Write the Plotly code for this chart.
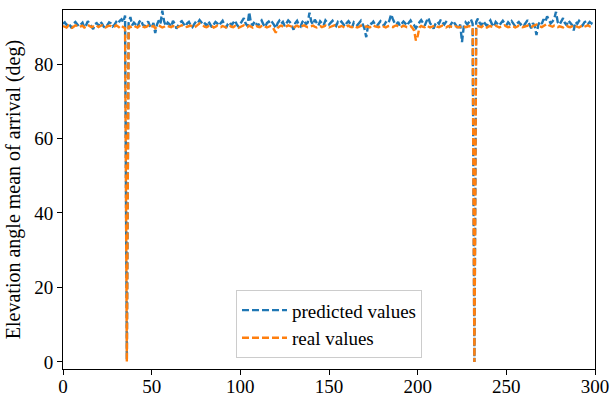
import plotly.graph_objects as go

real_values = [
    90.2, 90.0, 89.8, 90.3, 90.1, 89.7, 90.0, 90.4, 90.2, 89.9, 90.1, 90.3, 89.8, 90.0, 90.5, 90.2, 89.9, 90.1, 90.0, 90.3,
    89.9, 90.2, 90.4, 90.0, 89.8, 90.1, 90.3, 90.2, 89.9, 90.0, 90.4, 90.1, 89.7, 90.2, 90.0, 89.6, 0.0, 90.2, 89.9, 90.1,
    90.3, 90.0, 89.8, 90.2, 90.5, 90.1, 89.9, 90.0, 90.3, 89.8, 90.1, 90.2, 89.6, 90.0, 90.4, 90.1, 89.8, 90.0, 90.3, 90.2,
    90.0, 89.9, 90.2, 90.1, 89.7, 90.0, 90.3, 90.4, 90.1, 89.9, 90.0, 90.2, 90.3, 90.0, 89.8, 90.1, 90.5, 90.9, 90.6, 90.2,
    90.0, 89.9, 90.1, 90.4, 90.2, 89.8, 90.0, 90.3, 90.1, 89.9, 90.2, 90.0, 89.8, 90.1, 90.3, 90.0, 89.9, 90.2, 90.1, 89.7,
    90.0, 90.2, 90.4, 90.1, 89.9, 90.3, 90.0, 89.8, 90.1, 90.2, 90.0, 89.9, 90.2, 90.4, 90.1, 89.8, 90.0, 90.2, 90.1, 89.4,
    88.4, 89.6, 90.1, 90.3, 90.0, 89.8, 90.1, 90.4, 90.2, 90.0, 89.5, 90.1, 90.3, 90.0, 89.7, 90.2, 90.4, 90.1, 89.9, 90.0,
    90.2, 90.3, 90.0, 89.8, 90.1, 90.2, 89.9, 90.0, 90.3, 90.1, 89.8, 90.0, 90.2, 90.4, 90.1, 89.9, 90.0, 90.2, 90.0, 89.7,
    90.1, 90.3, 90.0, 89.9, 90.2, 90.1, 89.8, 90.0, 90.3, 90.2, 89.9, 90.1, 90.0, 89.8, 90.2, 90.4, 90.1, 90.0, 89.9, 90.2,
    90.3, 90.0, 89.8, 90.1, 90.2, 90.0, 89.9, 90.2, 90.4, 90.1, 89.8, 90.0, 90.3, 90.1, 89.9, 90.0, 90.2, 89.7, 89.0, 86.3,
    87.5, 89.8, 90.2, 90.0, 89.9, 90.3, 90.1, 89.8, 90.0, 90.2, 90.4, 90.0, 89.9, 90.1, 90.3, 90.0, 89.8, 90.1, 90.2, 90.0,
    89.9, 90.2, 90.1, 89.8, 90.0, 90.3, 90.1, 89.9, 90.0, 90.2, 90.1, 89.8, 0.0, 90.0, 90.2, 90.1, 89.9, 90.3, 90.0, 89.8,
    90.1, 90.2, 90.0, 89.9, 90.3, 90.1, 89.8, 90.0, 90.2, 90.4, 90.1, 89.9, 90.0, 90.2, 90.1, 89.8, 90.0, 90.3, 90.2, 89.9,
    90.0, 90.1, 90.3, 90.0, 89.8, 90.2, 90.4, 90.6, 90.3, 90.0, 89.9, 90.2, 90.5, 90.8, 90.4, 90.1, 90.0, 90.3, 90.2, 89.9,
    90.1, 90.0, 89.8, 90.2, 90.3, 90.0, 89.9, 90.1, 90.4, 90.2, 90.0, 89.8, 90.1, 90.3, 90.0, 90.2, 90.4, 90.1, 90.0, 90.2,
]

predicted_values = [
    90.8, 91.2, 90.5, 91.0, 90.3, 89.6, 90.9, 91.3, 90.7, 90.1, 90.6, 91.1, 89.8, 90.4, 91.5, 90.9, 90.2, 89.4, 90.7, 91.0,
    90.3, 91.4, 90.8, 90.0, 89.7, 90.6, 91.2, 90.9, 90.1, 90.5, 91.3, 90.8, 91.6, 92.0, 91.2, 93.0, 0.5, 91.0, 92.6, 90.4,
    91.1, 90.6, 89.9, 91.3, 91.8, 90.5, 90.1, 90.8, 91.4, 90.2, 89.8, 91.0, 88.3, 90.6, 91.7, 90.9, 94.3, 91.5, 90.2, 91.1,
    90.7, 90.0, 91.6, 90.8, 89.5, 90.4, 91.2, 91.5, 90.6, 90.1, 90.9, 91.3, 90.4, 89.9, 90.7, 91.4, 91.0, 91.8, 91.2, 90.5,
    90.9, 90.2, 91.5, 90.7, 89.8, 90.6, 91.3, 90.9, 90.3, 91.0, 91.6, 90.5, 89.7, 90.8, 91.2, 90.4, 91.1, 91.7, 90.6, 90.0,
    90.8, 91.4, 92.3, 90.9, 90.2, 93.9, 91.0, 90.3, 91.5, 90.8, 90.1, 91.2, 91.7, 90.6, 89.9, 91.0, 91.4, 90.7, 91.2, 90.5,
    89.6, 90.9, 91.6, 90.8, 91.3, 90.2, 90.9, 91.7, 91.2, 90.4, 89.2, 91.0, 91.6, 90.5, 90.1, 91.3, 91.8, 90.7, 91.1, 93.8,
    91.4, 90.6, 91.9, 90.9, 90.3, 91.5, 91.0, 90.4, 91.7, 91.2, 90.6, 91.1, 91.6, 90.8, 90.2, 91.3, 90.9, 91.4, 90.7, 90.1,
    91.0, 91.5, 90.8, 89.8, 91.2, 90.9, 90.4, 91.0, 91.6, 90.7, 89.5, 87.2, 90.3, 91.1, 90.8, 91.4, 90.6, 90.2, 91.0, 91.5,
    90.9, 90.3, 91.2, 90.8, 91.6, 93.3, 92.1, 91.0, 90.6, 91.3, 90.2, 90.8, 91.4, 90.9, 90.3, 91.1, 91.7, 90.8, 90.4, 89.6,
    90.5, 91.2, 91.8, 90.9, 90.3, 91.5, 92.4, 91.0, 90.2, 89.5, 90.7, 91.4, 90.8, 91.9, 91.2, 90.6, 91.3, 90.9, 90.1, 91.0,
    91.6, 90.8, 90.2, 89.4, 90.6, 85.9, 90.1, 91.2, 90.6, 91.4, 92.0, 90.8, 0.0, 91.3, 92.2, 91.0, 90.4, 91.5, 90.9, 90.2,
    91.1, 91.7, 90.6, 90.0, 91.3, 90.8, 90.3, 91.0, 91.6, 90.9, 90.4, 91.2, 90.7, 91.5, 90.8, 90.1, 90.9, 91.3, 90.6, 91.0,
    90.4, 91.2, 91.8, 90.7, 89.6, 91.0, 90.2, 87.8, 90.5, 91.4, 90.8, 92.0, 91.3, 92.8, 91.6, 90.9, 91.4, 92.1, 94.0, 91.2,
    90.6, 91.5, 92.3, 91.0, 90.4, 91.7, 91.1, 90.5, 89.0, 91.3, 90.8, 91.6, 91.0, 90.4, 91.2, 91.5, 90.7, 91.3, 90.9, 91.8,
]

x_index = list(range(len(real_values)))
x_ticks = [0, 50, 100, 150, 200, 250, 300]
y_ticks = [0, 20, 40, 60, 80]
y_title = "Elevation angle mean of arrival (deg)"

FONT = "Liberation Serif"

fig = go.Figure()
fig.add_trace(go.Scatter(
    x=x_index, y=predicted_values, mode="lines", name="predicted values",
    line=dict(color="#1f77b4", width=2.4, dash="7px,3px"),
))
fig.add_trace(go.Scatter(
    x=x_index, y=real_values, mode="lines", name="real values",
    line=dict(color="#ff7f0e", width=2.4, dash="7px,3px"),
))

axis_common = dict(
    showline=True, mirror=True, linecolor="black", linewidth=1,
    ticks="outside", ticklen=5, tickwidth=1, tickcolor="black",
    showgrid=False, zeroline=False, automargin=False,
    tickfont=dict(family=FONT, size=19, color="black"),
)

fig.update_layout(
    width=611, height=398,
    margin=dict(l=63, r=16, t=10, b=29),
    paper_bgcolor="white", plot_bgcolor="white",
    font=dict(family=FONT, size=19, color="black"),
    xaxis=dict(range=[0, 300], tickvals=x_ticks, ticklabelstandoff=-5, **axis_common),
    yaxis=dict(range=[-1.9, 94.5], tickvals=y_ticks,
               title=dict(text=y_title, font=dict(family=FONT, size=20), standoff=8),
               **axis_common),
    legend=dict(
        x=0.5, y=0.03, xanchor="center", yanchor="bottom",
        bgcolor="rgba(255,255,255,0.8)", bordercolor="#cccccc", borderwidth=1,
        font=dict(family=FONT, size=19, color="black"),
        itemwidth=45, tracegroupgap=0,
    ),
    showlegend=True,
)

fig.write_html(
    "out.html",
    config={"displayModeBar": False},
    post_script="document.body.style.margin='0';document.body.style.padding='0';document.body.style.overflow='hidden';",
)
